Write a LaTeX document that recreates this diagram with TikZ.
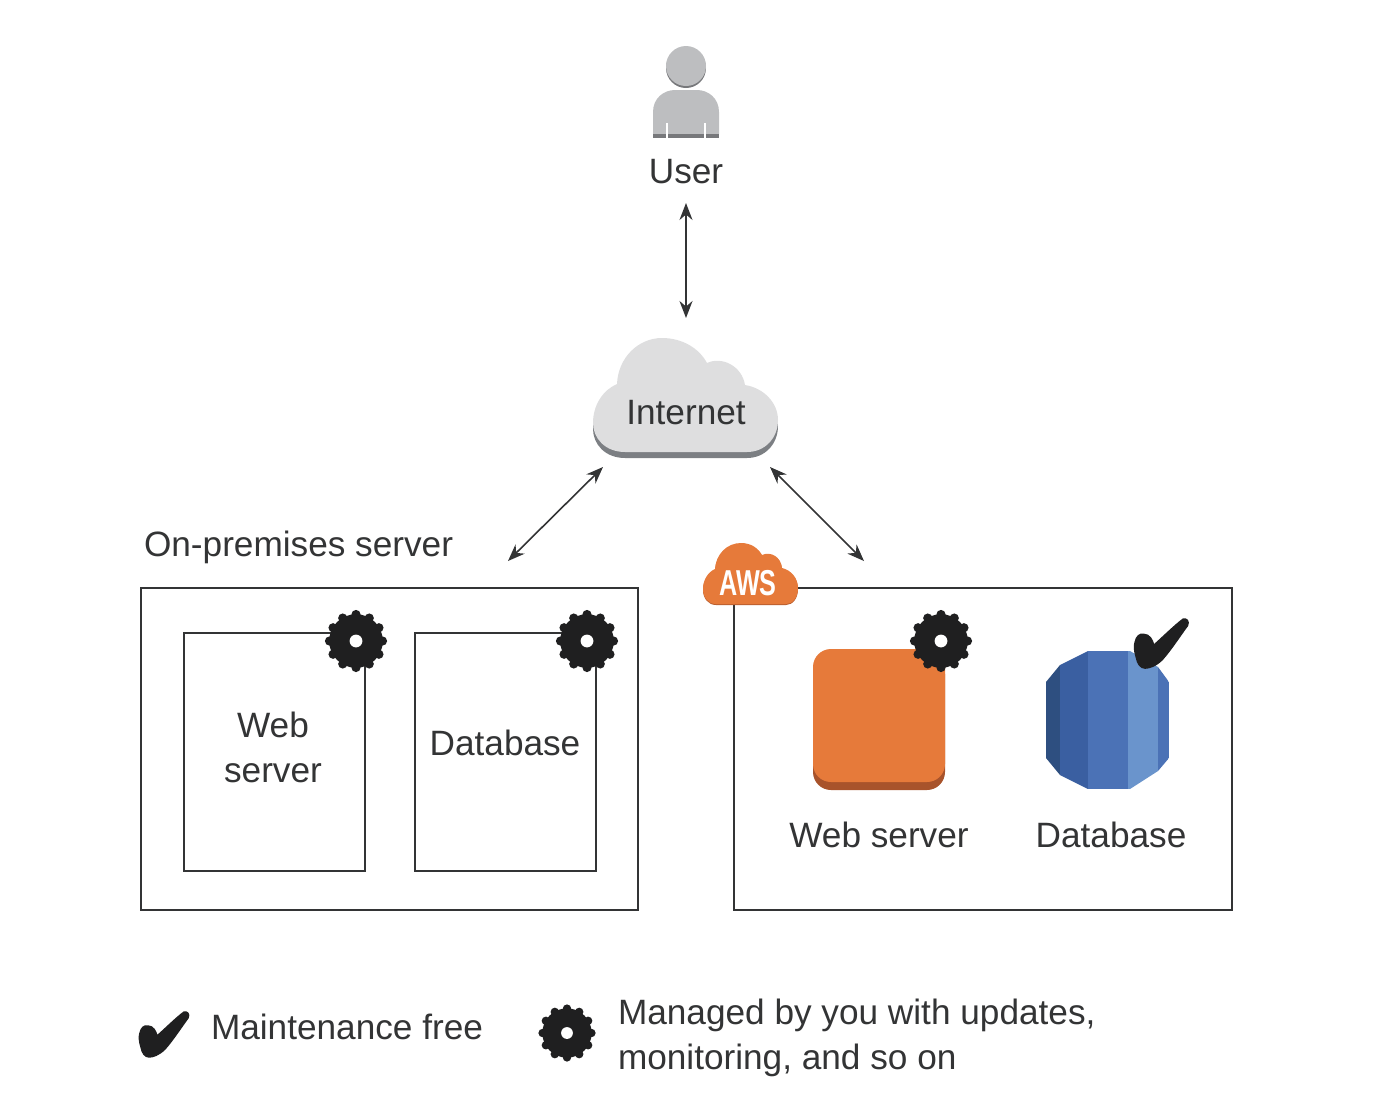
\documentclass[tikz,border=0pt]{standalone}
\usepackage{fontspec}
\setmainfont{Liberation Sans}
\usetikzlibrary{arrows.meta}
\definecolor{ink}{HTML}{333435}
\definecolor{gearblack}{HTML}{1F1F20}
\definecolor{awsorange}{HTML}{E67A3A}
\definecolor{awsdark}{HTML}{A8532B}
\definecolor{cloudgrey}{HTML}{DEDEDF}
\definecolor{clouddark}{HTML}{7C7F83}
\definecolor{usergrey}{HTML}{BDBEC0}
\definecolor{userdark}{HTML}{77787B}
\definecolor{dbA}{HTML}{2E4F80}
\definecolor{dbB}{HTML}{3A5FA1}
\definecolor{dbC}{HTML}{4B72B6}
\definecolor{dbD}{HTML}{6A94CC}
\tikzset{
  x=0.5pt,y=-0.5pt,
  lbl/.style={text=ink,font=\fontsize{17.6pt}{22.5pt}\selectfont,inner sep=0pt,outer sep=0pt},
  boxrect/.style={draw=ink,line width=1.3pt,fill=white,inner sep=0pt,outer sep=0pt,anchor=north west},
  link/.style={draw=ink,line width=0.8pt,{Stealth[length=8.5pt,width=6.5pt]}-{Stealth[length=8.5pt,width=6.5pt]}}
}
\newcommand{\gearicon}[3]{% x, y, scale (1 = big gear)
  \begin{scope}[shift={(#1,#2)},scale=#3]
    \fill[gearblack] (0,0) circle[radius=13.4pt];
    \foreach \a in {0,30,...,330}{\fill[gearblack] (\a:26.5) circle[radius=2.3pt];}
    \fill[white] (0,0) circle[radius=3.2pt];
  \end{scope}}
\newcommand{\checkicon}[3]{% x, y of top-left, scale
  \begin{scope}[shift={(#1,#2)},scale=#3]
    \filldraw[gearblack,line width=0.7pt,line join=round] (46,1) .. controls (49,0) and (52,3) .. (50,7)
      .. controls (44,15) and (35,29) .. (27,38)
      .. controls (21,44) and (15,46) .. (11,46)
      .. controls (7,46) and (4,42) .. (3,36)
      .. controls (1,30) and (1,25) .. (2,22)
      .. controls (3,17) and (6,14) .. (10,15)
      .. controls (15,15) and (18,20) .. (19,25)
      .. controls (28,17) and (38,7) .. (46,1) -- cycle;
  \end{scope}}
\begin{document}
\begin{tikzpicture}
\useasboundingbox (0,0) rectangle (1382,1110);
% user
\fill[userdark] (686,68) circle[radius=10pt];
\fill[usergrey] (686,66) circle[radius=10pt];
\fill[usergrey] (653,134) -- (653,112) .. controls (653,98) and (664,90) .. (675,90) -- (697,90) .. controls (708,90) and (719,98) .. (719,112) -- (719,134) -- cycle;
\fill[userdark] (653,134) rectangle (719,138);
\fill[white] (666,123) rectangle (668,138);
\fill[white] (704,123) rectangle (706,138);
\node[lbl,anchor=base] (user) at (686,183) {User};
% internet cloud
\def\cloudpath{(625,452) .. controls (605,452) and (593,438) .. (593,423)
  .. controls (593,405) and (603,390) .. (617,384)
  .. controls (618,358) and (638,338) .. (662,338)
  .. controls (682,338) and (699,348) .. (707,363)
  .. controls (722,356) and (742,366) .. (745,385)
  .. controls (764,388) and (778,403) .. (778,420)
  .. controls (778,438) and (765,452) .. (747,452) -- cycle}
\fill[clouddark] [yshift=-3pt] \cloudpath;
\fill[cloudgrey] \cloudpath;
\node[lbl,anchor=base] (internet) at (686,424) {Internet};
% left box
\node[lbl,anchor=base west] (onprem) at (144,556) {On-premises server};
\node[boxrect,minimum width=248.5pt,minimum height=161pt] (onbox) at (141,588) {};
\node[boxrect,minimum width=90.5pt,minimum height=119pt] (webbox) at (184,633) {};
\node[boxrect,minimum width=90.5pt,minimum height=119pt] (dbbox) at (415,633) {};
\node[lbl,align=center] (webtxt) at (273,747) {Web\\server};
\node[lbl] (dbtxt) at (505,743) {Database};
\gearicon{356}{641}{1}
\gearicon{587}{641}{1}
% right box
\node[boxrect,minimum width=249pt,minimum height=161pt] (awsbox) at (734,588) {};
\def\awscloud{(716,604) .. controls (708,604) and (703,597) .. (703,589)
  .. controls (703,580) and (708,572) .. (715,569)
  .. controls (716,554) and (727,543) .. (741,543)
  .. controls (751,543) and (758,548) .. (762,555)
  .. controls (771,551) and (781,557) .. (782,568)
  .. controls (791,570) and (798,578) .. (798,588)
  .. controls (798,597) and (793,604) .. (786,604) -- cycle}
\fill[awsdark!70!awsorange] [yshift=-0.5pt] \awscloud;
\fill[awsorange] \awscloud;
\node[inner sep=0pt,text=white,font=\bfseries\fontsize{18pt}{18pt}\selectfont,anchor=base] (awstxt) at (748,595) {\scalebox{0.7}[1]{AWS}};
% orange square
\fill[awsdark,rounded corners=9pt] (813,656) rectangle (945,790);
\fill[awsorange,rounded corners=9pt] (813,649) rectangle (945,782);
\gearicon{941}{641}{1}
% database icon
\begin{scope}
\clip (1088,651) -- (1130,651) -- (1158,667) -- (1169,682) -- (1169,758) -- (1158,771) -- (1130,789) -- (1088,789) -- (1060,775) -- (1046,758) -- (1046,682) -- (1060,665) -- cycle;
\fill[dbA] (1046,651) rectangle (1060,789);
\fill[dbB] (1060,651) rectangle (1088,789);
\fill[dbC] (1088,651) rectangle (1128,789);
\fill[dbD] (1128,651) rectangle (1158,789);
\fill[dbC] (1158,651) rectangle (1169,789);
\end{scope}
\checkicon{1133}{618}{1.09}
\node[lbl,anchor=base] (awsweb) at (879,847) {Web server};
\node[lbl,anchor=base] (awsdb) at (1111,847) {Database};
% connectors
\coordinate (userlow) at (686,203);
\coordinate (netup) at (686,318);
\coordinate (netleft) at (603,467);
\coordinate (onend) at (508,561);
\coordinate (netright) at (770,467);
\coordinate (awsend) at (864,561);
\draw[link] (userlow) -- (netup);
\draw[link] (netleft) -- (onend);
\draw[link] (netright) -- (awsend);
% legend
\checkicon{138}{1011}{1}
\node[lbl,anchor=base west] (legfree) at (211,1039) {Maintenance free};
\gearicon{567}{1033}{0.92}
\node[lbl,anchor=base west] (legman1) at (618,1024) {Managed by you with updates,};
\node[lbl,anchor=base west] (legman2) at (618,1069) {monitoring, and so on};
\end{tikzpicture}
\end{document}
